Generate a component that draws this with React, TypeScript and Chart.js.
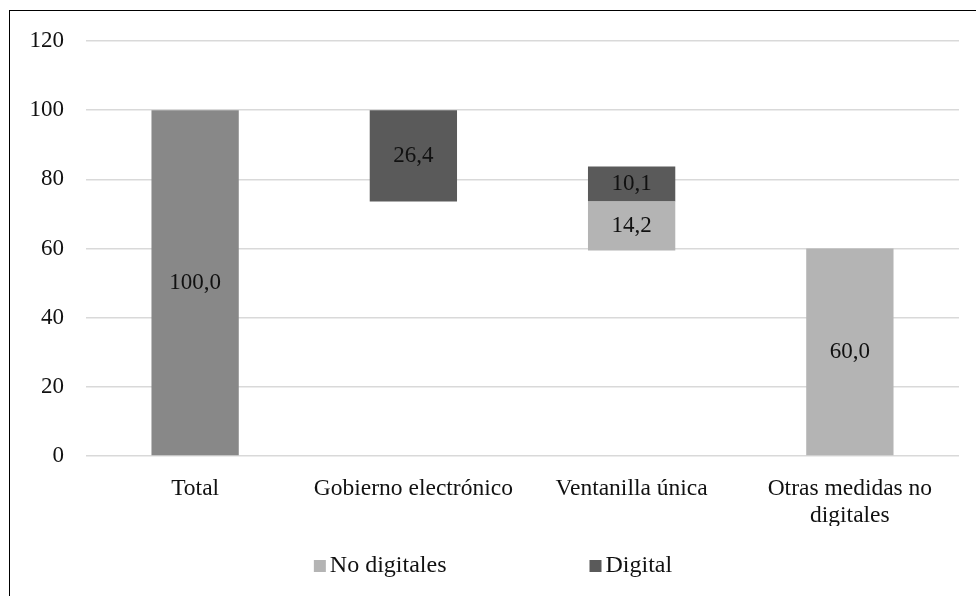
import React, { useEffect, useRef } from "react";
import { Chart, registerables } from "chart.js";

Chart.register(...registerables);

const categories: (string | string[])[] = [
  "Total",
  "Gobierno electrónico",
  "Ventanilla única",
  ["Otras medidas no", "digitales"],
];

const totalValues = [100.0, null, null, null];
const totalBase = [0, null, null, null];

const noDigitalValues = [null, null, 14.2, 60.0];
const noDigitalBase = [null, null, 59.4, 0];

const digitalValues = [null, 26.4, 10.1, null];
const digitalBase = [null, 73.6, 73.6, null];

const yTicks = [0, 20, 40, 60, 80, 100, 120];

const FONT = "'Liberation Serif', 'Times New Roman', serif";

function ranges(values: (number | null)[], base: (number | null)[]) {
  return values.map((v, i) => (v == null ? null : [base[i] as number, (base[i] as number) + v]));
}

const fmt = (v: number) => v.toFixed(1).replace(".", ",");

const valueLabels = {
  id: "valueLabels",
  afterDatasetsDraw(chart: any) {
    const ctx = chart.ctx;
    ctx.save();
    ctx.font = `23px ${FONT}`;
    ctx.fillStyle = "#111";
    ctx.textAlign = "center";
    ctx.textBaseline = "middle";
    chart.data.datasets.forEach((ds: any, di: number) => {
      const meta = chart.getDatasetMeta(di);
      meta.data.forEach((el: any, i: number) => {
        const vals = ds.values as (number | null)[];
        const v = vals[i];
        if (v == null) return;
        const { x, y, base } = el.getProps(["x", "y", "base"], true);
        ctx.fillText(fmt(v), x, (y + base) / 2);
      });
    });
    ctx.restore();
  },
};

const bottomLegend = {
  id: "bottomLegend",
  afterDraw(chart: any) {
    const ctx = chart.ctx;
    const items = chart.data.datasets.filter((d: any) => d.showInLegend);
    ctx.save();
    ctx.font = `24px ${FONT}`;
    const box = 12;
    const gap = 4;
    const spacing = 143;
    const widths = items.map((d: any) => box + gap + ctx.measureText(d.label).width);
    const total = widths.reduce((a: number, b: number) => a + b, 0) + spacing * (items.length - 1);
    let x = chart.width / 2 - total / 2;
    const cy = chart.scales.x.bottom + 40;
    ctx.textBaseline = "middle";
    ctx.textAlign = "left";
    items.forEach((d: any, i: number) => {
      ctx.fillStyle = d.backgroundColor;
      ctx.fillRect(x, cy - box / 2, box, box);
      ctx.fillStyle = "#111";
      ctx.fillText(d.label, x + box + gap, cy);
      x += widths[i] + spacing;
    });
    ctx.restore();
  },
};

export default function App() {
  const ref = useRef<HTMLCanvasElement>(null);

  useEffect(() => {
    if (!ref.current) return;
    const chart = new Chart(ref.current, {
      type: "bar",
      data: {
        labels: categories,
        datasets: [
          {
            label: "Total",
            data: ranges(totalValues, totalBase) as any,
            values: totalValues,
            showInLegend: false,
            backgroundColor: "#888888",
          } as any,
          {
            label: "No digitales",
            data: ranges(noDigitalValues, noDigitalBase) as any,
            values: noDigitalValues,
            showInLegend: true,
            backgroundColor: "#b4b4b4",
          } as any,
          {
            label: "Digital",
            data: ranges(digitalValues, digitalBase) as any,
            values: digitalValues,
            showInLegend: true,
            backgroundColor: "#5a5a5a",
          } as any,
        ],
      },
      options: {
        responsive: false,
        animation: false,
        layout: { padding: { top: 30, right: 17, bottom: 70, left: 0 } },
        datasets: { bar: { barPercentage: 0.4, categoryPercentage: 1, borderWidth: 0 } },
        plugins: {
          legend: { display: false },
          tooltip: { enabled: false },
        },
        scales: {
          x: {
            stacked: true,
            grid: { display: false, drawTicks: false },
            border: { display: false },
            afterFit: (axis: any) => {
              axis.height = 70;
            },
            ticks: {
              padding: 19,
              color: "#111",
              font: { family: FONT, size: 23.5, lineHeight: 1.15 },
              maxRotation: 0,
              autoSkip: false,
            },
          },
          y: {
            stacked: false,
            min: 0,
            max: 120,
            afterBuildTicks: (axis: any) => {
              axis.ticks = yTicks.map((v) => ({ value: v }));
            },
            afterFit: (axis: any) => {
              axis.width = 76;
              axis.paddingTop = 0;
              axis.paddingBottom = 0;
            },
            grid: { color: "#d9d9d9", lineWidth: 1.5, drawTicks: false },
            border: { display: false },
            ticks: {
              padding: 22,
              color: "#111",
              font: { family: FONT, size: 23 },
            },
          },
        },
      },
      plugins: [valueLabels, bottomLegend],
    });
    return () => chart.destroy();
  }, []);

  return (
    <div
      style={{
        position: "absolute",
        left: 9,
        top: 10,
        width: 967,
        height: 586,
        borderLeft: "1px solid #000",
        borderTop: "1px solid #000",
        boxSizing: "border-box",
        overflow: "hidden",
        background: "#fff",
      }}
    >
      <canvas ref={ref} width={966} height={585} style={{ display: "block", width: 966, height: 585 }} />
    </div>
  );
}
